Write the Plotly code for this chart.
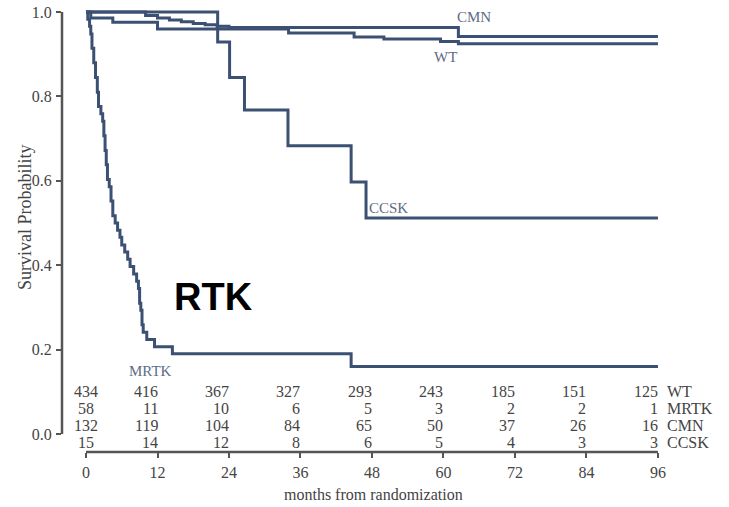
import plotly.graph_objects as go

# ---------------- data ----------------
wt_t = [0, 0.8, 4.5, 12.0, 34.0, 45.0, 50.0, 59.5, 62.5, 96]
wt_s = [1.0, 0.986, 0.976, 0.960, 0.950, 0.941, 0.936, 0.930, 0.925, 0.925]

cmn_t = [0, 10, 12, 14, 16, 18, 20, 22, 24, 62.5, 96]
cmn_s = [1.0, 0.992, 0.986, 0.981, 0.977, 0.973, 0.970, 0.966, 0.963, 0.942, 0.942]

ccsk_t = [0, 22.1, 24.1, 26.6, 33.9, 44.5, 47.0, 96]
ccsk_s = [1.0, 0.929, 0.845, 0.768, 0.683, 0.597, 0.512, 0.512]

mrtk_t = [0, 0.3, 0.6, 0.8, 1.0, 1.3, 1.6, 1.9, 2.1, 2.5, 2.8, 3.0, 3.2, 3.4, 3.6,
          3.9, 4.2, 4.5, 4.9, 5.3, 5.7, 6.0, 6.5, 7.0, 7.4, 8.0, 8.5, 8.8, 9.0,
          9.2, 9.4, 9.6, 10.2, 11.5, 14.5, 44.5, 96]
mrtk_s = [1.0, 0.983, 0.966, 0.948, 0.914, 0.880, 0.845, 0.810, 0.776, 0.759, 0.741,
          0.707, 0.672, 0.638, 0.603, 0.586, 0.552, 0.517, 0.500, 0.483, 0.466, 0.448,
          0.431, 0.414, 0.397, 0.379, 0.362, 0.345, 0.310, 0.293, 0.259, 0.241, 0.224,
          0.207, 0.190, 0.160, 0.160]

month_ticks = [0, 12, 24, 36, 48, 60, 72, 84, 96]
y_ticks = [0.0, 0.2, 0.4, 0.6, 0.8, 1.0]
y_tick_labels = ["0.0", "0.2", "0.4", "0.6", "0.8", "1.0"]

risk_groups = ["WT", "MRTK", "CMN", "CCSK"]
risk_wt = [434, 416, 367, 327, 293, 243, 185, 151, 125]
risk_mrtk = [58, 11, 10, 6, 5, 3, 2, 2, 1]
risk_cmn = [132, 119, 104, 84, 65, 50, 37, 26, 16]
risk_ccsk = [15, 14, 12, 8, 6, 5, 4, 3, 3]

# ---------------- layout geometry ----------------
W, H = 729, 507
L, R, T, B = 62, 700, 5, 452          # plot-area pixel box
X0PX, XSCALE = 86, 5.958              # pixel of t=0, px per month
Y0PX, YSCALE = 434, 422               # pixel of S=0, px per unit

x_range = [(L - X0PX) / XSCALE, (R - X0PX) / XSCALE]
y_range = [(Y0PX - B) / YSCALE, (Y0PX - T) / YSCALE]


def ypaper(py):
    return (B - py) / (B - T)


def xpaper(px):
    return (px - L) / (R - L)


CURVE = "#3b5072"
LABEL = "#5d6b86"
TXT = "#444444"
SERIF = "Liberation Serif, Times New Roman, serif"

fig = go.Figure()
for t, s in [(wt_t, wt_s), (cmn_t, cmn_s), (ccsk_t, ccsk_s), (mrtk_t, mrtk_s)]:
    fig.add_trace(go.Scatter(x=t, y=s, mode="lines", line=dict(color=CURVE, width=3, shape="hv"),
                             hoverinfo="skip", showlegend=False))

ann = []
# curve labels
ann.append(dict(x=xpaper(455), y=ypaper(17), text="CMN", xanchor="left"))
ann.append(dict(x=xpaper(432), y=ypaper(57), text="WT", xanchor="left"))
ann.append(dict(x=xpaper(367), y=ypaper(208), text="CCSK", xanchor="left"))
ann.append(dict(x=xpaper(127), y=ypaper(371), text="MRTK", xanchor="left"))
for a in ann:
    a.update(xref="paper", yref="paper", yanchor="middle", showarrow=False,
             font=dict(family=SERIF, size=15, color=LABEL))

# risk table
rows = [risk_wt, risk_mrtk, risk_cmn, risk_ccsk]
row_py = [391, 408, 425, 442]
for vals, name, py in zip(rows, risk_groups, row_py):
    for m, v in zip(month_ticks, vals):
        ann.append(dict(x=m, xref="x", y=ypaper(py), yref="paper", text=str(v),
                        xanchor="center" if m == 0 else "right", yanchor="middle",
                        xshift=0 if m == 0 else 2, showarrow=False,
                        font=dict(family=SERIF, size=16, color=TXT)))
    ann.append(dict(x=xpaper(665), xref="paper", y=ypaper(py), yref="paper", text=name,
                    xanchor="left", yanchor="middle", showarrow=False,
                    font=dict(family=SERIF, size=16, color=TXT)))

# axis titles
ann.append(dict(x=xpaper(373), y=ypaper(495), xref="paper", yref="paper",
                text="months from randomization", showarrow=False,
                xanchor="center", yanchor="middle",
                font=dict(family=SERIF, size=16, color=TXT)))
ann.append(dict(x=xpaper(25), y=ypaper(217), xref="paper", yref="paper",
                text="Survival Probability", textangle=-90, showarrow=False,
                xanchor="center", yanchor="middle",
                font=dict(family=SERIF, size=18, color=TXT)))
# big label
ann.append(dict(x=xpaper(213), y=ypaper(297), xref="paper", yref="paper",
                text="<b>RTK</b>", showarrow=False, xanchor="center", yanchor="middle",
                font=dict(family="Liberation Sans, Arial, sans-serif", size=38, color="#000000")))

shapes = [
    # detached y-axis line from 0 to 1
    dict(type="line", xref="paper", yref="y", x0=0, x1=0, y0=0, y1=1,
         line=dict(color="#555555", width=2.5)),
    # detached x-axis line from 0 to 96
    dict(type="line", xref="x", yref="paper", x0=month_ticks[0], x1=month_ticks[-1], y0=0, y1=0,
         line=dict(color="#555555", width=2.5)),
]

fig.update_layout(
    width=W, height=H, autosize=False,
    margin=dict(l=L, r=W - R, t=T, b=H - B),
    paper_bgcolor="white", plot_bgcolor="white",
    annotations=ann, shapes=shapes, showlegend=False,
    xaxis=dict(range=x_range, tickvals=month_ticks, ticktext=[str(m) for m in month_ticks],
               ticks="outside", ticklen=5, tickwidth=2, tickcolor="#555555",
               showgrid=False, zeroline=False, showline=False, ticklabelstandoff=1,
               tickfont=dict(family=SERIF, size=16, color=TXT)),
    yaxis=dict(range=y_range, tickvals=y_ticks, ticktext=y_tick_labels,
               ticks="outside", ticklen=5, tickwidth=2, tickcolor="#555555",
               showgrid=False, zeroline=False, showline=False, ticklabelstandoff=1,
               tickfont=dict(family=SERIF, size=16, color=TXT)),
)

fig.write_html("out.html", config={"displayModeBar": False})
